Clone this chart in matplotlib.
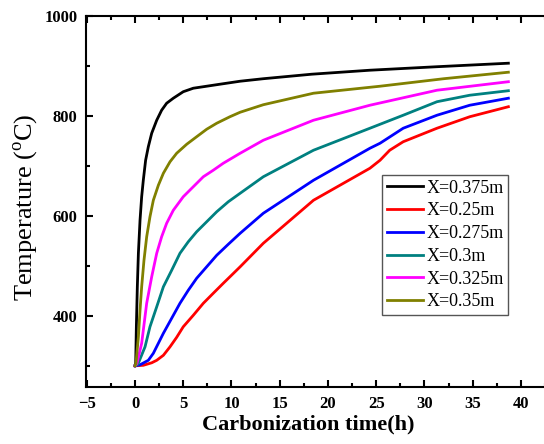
import matplotlib
matplotlib.use("Agg")
import matplotlib.pyplot as plt
from matplotlib.ticker import MultipleLocator

plt.rcParams['font.family'] = ['Liberation Serif', 'DejaVu Serif']
plt.rcParams['mathtext.fontset'] = 'custom'
plt.rcParams['mathtext.rm'] = 'Liberation Serif'

# Data (time in h, temperature in degC)
t_0375 = [0, 0.07, 0.14, 0.24, 0.35, 0.52, 0.69, 0.86, 1.1, 1.38, 1.73, 2.25, 2.76, 3.28,
          3.97, 5.0, 6.04, 7.08, 8.8, 10.9, 13.3, 18.3, 24.35, 31.3, 38.7]
T_0375 = [300, 305, 378, 458, 525, 591, 638, 671, 711, 738, 765, 791, 811, 825,
          835, 848, 855, 858, 863, 869, 874, 883, 891, 898, 905]

t_025 = [0, 0.86, 1.73, 2.25, 2.94, 3.63, 4.32, 5.0, 6.04, 7.08, 8.11, 9.15, 10.0, 10.9,
         13.3, 18.5, 24.35, 25.4, 26.4, 27.8, 31.3, 34.7, 38.7]
T_025 = [300, 301, 306, 311, 321, 338, 357, 378, 401, 425, 445, 465, 481, 498,
         545, 631, 695, 711, 731, 748, 775, 798, 818]

t_0275 = [0, 0.52, 1.38, 1.9, 2.42, 2.94, 3.8, 4.66, 5.52, 6.39, 7.43, 8.47, 9.67, 10.9,
          13.3, 18.5, 24.35, 25.4, 27.8, 31.3, 34.7, 38.7]
T_0275 = [300, 302, 311, 325, 345, 365, 395, 425, 451, 475, 498, 521, 543, 565,
          605, 671, 735, 745, 775, 801, 821, 835]

t_03 = [0, 0.3, 1.04, 1.55, 2.25, 2.94, 3.8, 4.66, 5.52, 6.39, 7.43, 8.47, 9.67, 10.9,
        13.3, 18.5, 24.35, 27.8, 31.3, 34.7, 38.7]
T_03 = [300, 303, 338, 378, 418, 458, 491, 525, 548, 568, 588, 608, 628, 645,
        678, 731, 775, 801, 828, 841, 850]

t_0325 = [0, 0.2, 0.69, 1.21, 1.73, 2.25, 2.76, 3.28, 3.97, 5.0, 6.04, 7.08, 8.11, 9.15,
          10.9, 13.3, 18.5, 24.35, 31.3, 38.7]
T_0325 = [300, 305, 345, 425, 478, 525, 558, 585, 611, 638, 658, 678, 691, 705,
          725, 751, 791, 821, 851, 868]

t_035 = [0, 0.1, 0.35, 0.52, 0.69, 0.93, 1.21, 1.55, 1.9, 2.42, 2.94, 3.63, 4.32, 5.36,
         6.39, 7.43, 8.47, 9.84, 10.9, 13.3, 18.5, 25.4, 32.0, 38.7]
T_035 = [300, 305, 358, 411, 458, 511, 558, 598, 631, 661, 685, 708, 725, 743,
         758, 773, 785, 798, 807, 822, 845, 859, 874, 887]

labels = ['X=0.375m', 'X=0.25m', 'X=0.275m', 'X=0.3m', 'X=0.325m', 'X=0.35m']
colors = ['#000000', '#FF0000', '#0000FF', '#008080', '#FF00FF', '#808000']
series = [(t_0375, T_0375), (t_025, T_025), (t_0275, T_0275),
          (t_03, T_03), (t_0325, T_0325), (t_035, T_035)]

xticks = [-5, 0, 5, 10, 15, 20, 25, 30, 35, 40]
yticks = [400, 600, 800, 1000]

W, H = 544, 444
fig = plt.figure(figsize=(W / 100, H / 100), dpi=100)
ax = fig.add_axes([86 / W, 1 - 387.3 / H, (546 - 86) / W, (387.3 - 15.7) / H])

for (t, T), c, lab in zip(series, colors, labels):
    ax.plot(t, T, color=c, lw=2.0, label=lab, solid_joinstyle='round')

ax.set_xlim(-5.08, 42.6)
ax.set_ylim(257, 1000)
ax.set_xticks(xticks)
ax.set_yticks(yticks)
ax.xaxis.set_minor_locator(MultipleLocator(2.5))
ax.yaxis.set_minor_locator(MultipleLocator(100))
ax.tick_params(which='both', direction='in', top=True, right=False, width=1.5)
ax.tick_params(which='major', length=5, pad=6, labelsize=12)
ax.tick_params(which='minor', length=3)
for lab in ax.get_xticklabels() + ax.get_yticklabels():
    lab.set_fontweight('bold')

for s in ['left', 'bottom', 'top']:
    ax.spines[s].set_linewidth(1.5)
ax.spines['right'].set_visible(False)

fig.text(308.5 / W, 1 - 424 / H, 'Carbonization time(h)', fontsize=16,
         fontweight='bold', ha='center', va='center')
fig.text(26 / W, 1 - 207.5 / H, r'Temperature ($^{\rm o}$C)', fontsize=19,
         rotation=90, ha='center', va='center')

leg = ax.legend(loc='upper left', bbox_to_anchor=(382 / W, 1 - 175 / H),
                bbox_transform=fig.transFigure, fontsize=13, frameon=True,
                fancybox=False, edgecolor='#555555', framealpha=1,
                handlelength=2.0, handletextpad=0.2, borderpad=0.25,
                labelspacing=0.32, borderaxespad=0)
leg.get_frame().set_linewidth(1.0)

fig.savefig('out.png', dpi=100)
